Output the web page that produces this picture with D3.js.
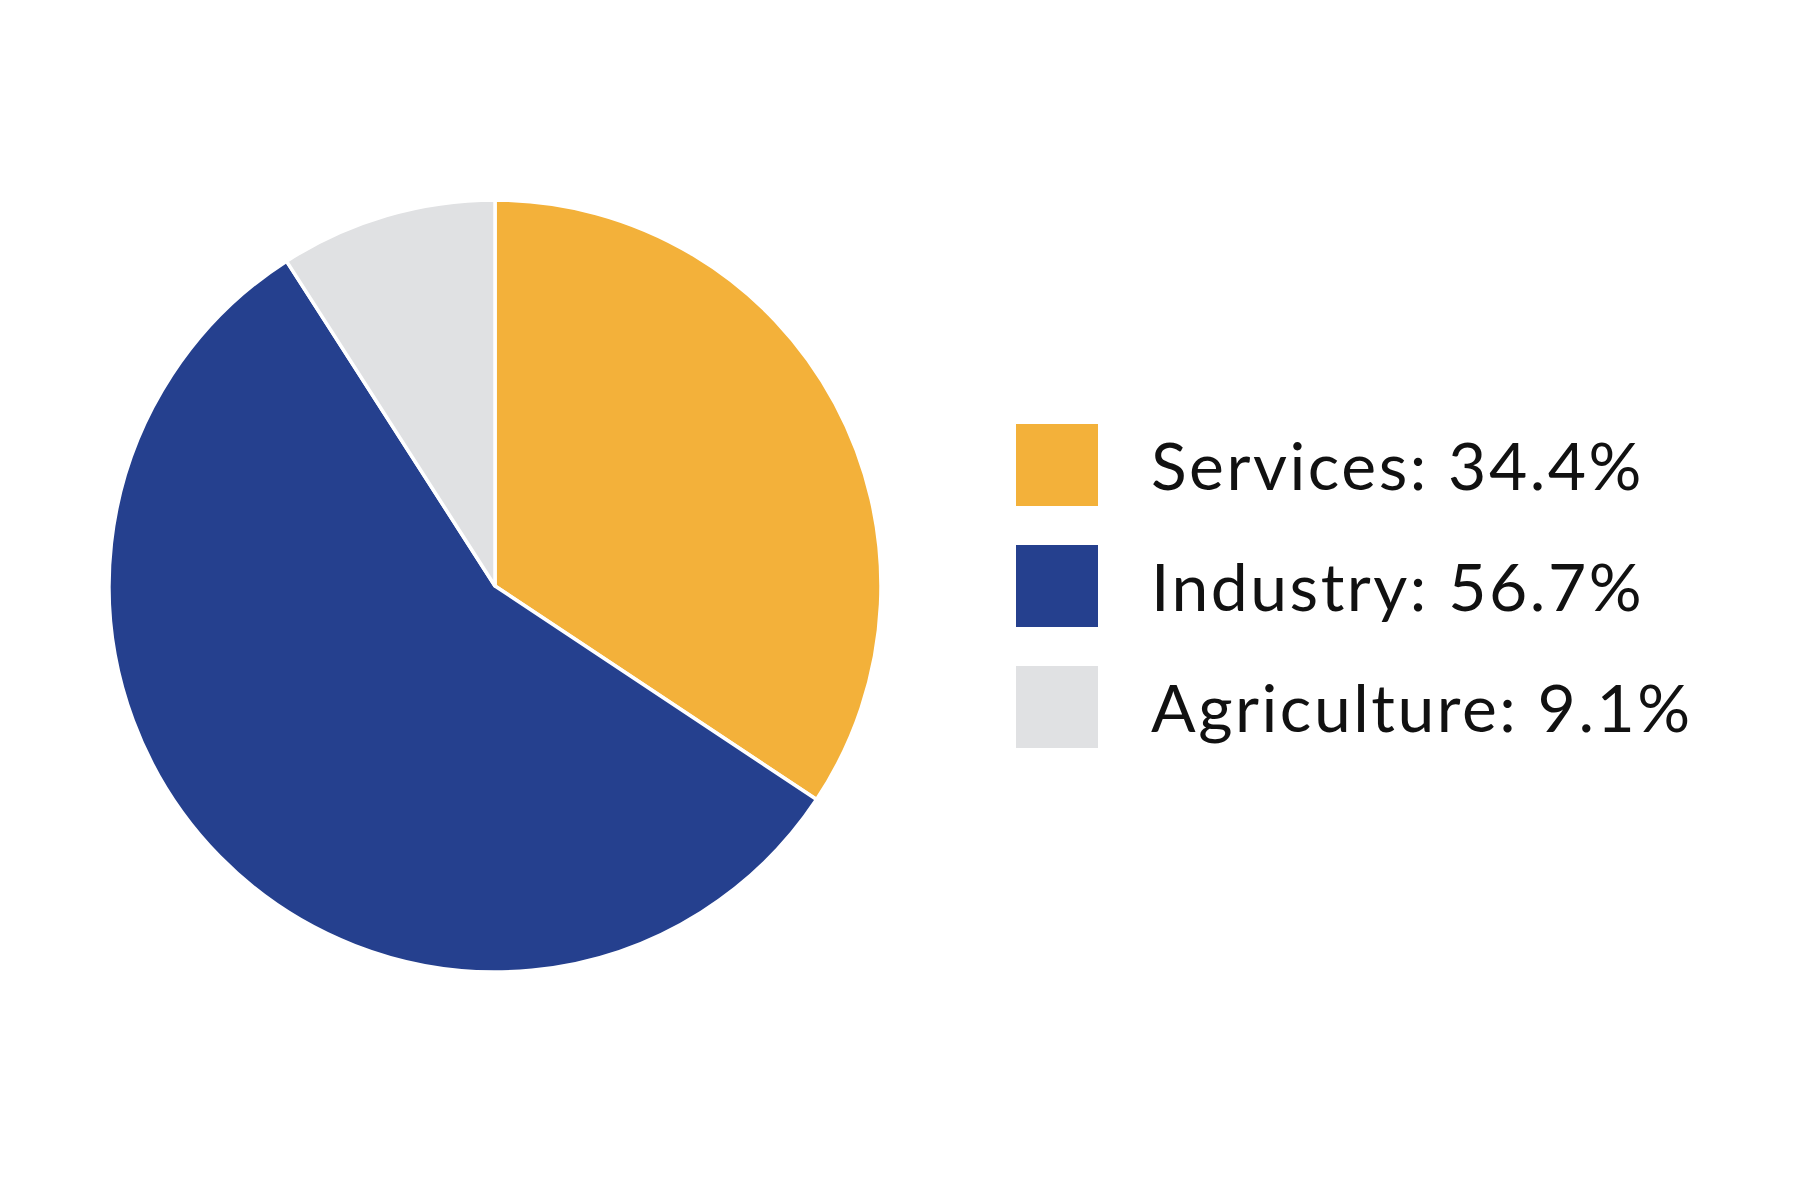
<!DOCTYPE html>
<html><head><meta charset="utf-8">
<script src="https://cdn.jsdelivr.net/npm/d3@7"></script>
<style>body{margin:0;background:#fff}svg{display:block}</style>
</head><body>
<script>
const categories = ["Services", "Industry", "Agriculture"];
const values = [34.4, 56.7, 9.1];
const colors = ["#F3B13A", "#25408E", "#E0E1E3"];

const W = 1800, H = 1200;
const svg = d3.select("body").append("svg").attr("width", W).attr("height", H);

const cx = 495, cy = 586, R = 386;
const pie = d3.pie().sort(null).value(d => d.v);
const data = categories.map((c, i) => ({c, v: values[i], col: colors[i]}));
const arc = d3.arc().innerRadius(0).outerRadius(R);

svg.append("g").attr("transform", `translate(${cx},${cy})`)
  .selectAll("path").data(pie(data)).join("path")
  .attr("d", arc)
  .attr("fill", d => d.data.col)
  .attr("stroke", "#fff").attr("stroke-width", 3.5).attr("stroke-linejoin", "round");

const ly = d3.scaleBand().domain(categories).range([424, 424 + 121 * 3]).paddingInner(0);
const lg = svg.append("g");
const items = lg.selectAll("g").data(data).join("g")
  .attr("transform", d => `translate(1016,${ly(d.c)})`);
items.append("rect").attr("width", 82).attr("height", 82).attr("fill", d => d.col);
items.append("text")
  .attr("x", 135).attr("y", 41 + 25)
  .attr("font-family", "Lato, 'Noto Sans', sans-serif")
  .attr("font-size", 66)
  .attr("letter-spacing", 2.5)
  .attr("fill", "#111")
  .text(d => `${d.c}: ${d.v}%`);
</script>
</body></html>
